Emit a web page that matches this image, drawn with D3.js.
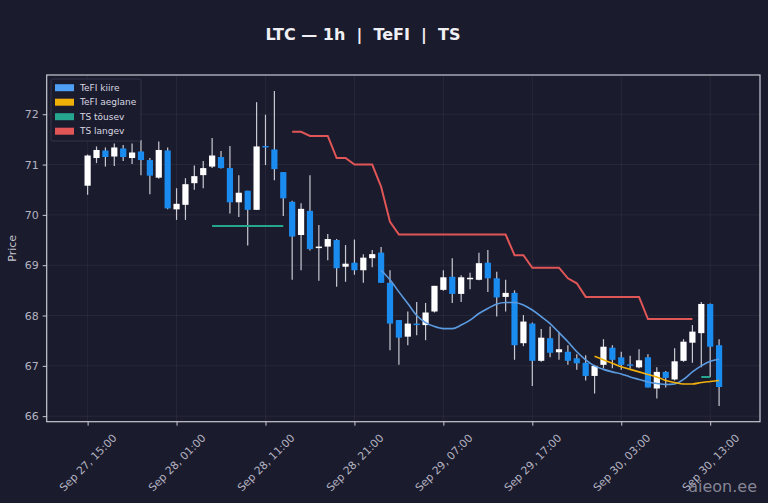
<!DOCTYPE html>
<html>
<head>
<meta charset="utf-8">
<script src="https://cdn.jsdelivr.net/npm/d3@7"></script>
<style>
  html, body { margin: 0; padding: 0; background: #1b1b2e; }
  svg { display: block; font-family: "DejaVu Sans", sans-serif; }
</style>
</head>
<body>
<svg id="chart"></svg>
<script>
// hourly candles, first one Sep 27 15:00
let startTime = Date.UTC(2024, 8, 27, 15);

let opens = [70.58, 71.13, 71.28, 71.16, 71.32, 71.13, 71.26, 71.09, 70.74, 71.28,
  70.11, 70.20, 70.63, 70.79, 70.96, 71.15, 70.93, 70.25, 70.48, 70.10,
  71.37, 71.30, 70.85, 70.26, 69.60, 70.08, 69.34, 69.37, 69.50, 68.97,
  69.05, 68.90, 69.14, 69.25, 68.65, 67.91, 67.58, 67.84, 67.81, 68.08,
  68.51, 68.77, 68.43, 68.73, 68.71, 69.05, 68.74, 68.37, 68.45, 67.45,
  67.84, 67.10, 67.55, 67.27, 67.28, 67.15, 67.06, 66.80, 67.02, 67.36,
  67.17, 67.03, 66.97, 67.17, 66.55, 66.88, 66.73, 67.10, 67.46, 67.65,
  68.23, 67.41];
let highs = [71.20, 71.36, 71.34, 71.42, 71.39, 71.42, 71.49, 71.13, 71.46, 71.34,
  70.53, 70.73, 70.98, 71.07, 71.53, 71.27, 71.37, 70.79, 70.48, 72.24,
  71.99, 72.46, 70.85, 70.28, 70.23, 70.79, 69.80, 69.62, 69.52, 69.40,
  69.51, 69.22, 69.30, 69.36, 68.90, 67.91, 68.08, 68.27, 68.25, 68.59,
  68.90, 69.14, 68.80, 68.85, 69.25, 69.30, 68.87, 68.71, 68.50, 68.01,
  67.86, 67.73, 67.78, 67.68, 67.41, 67.23, 67.21, 67.02, 67.53, 67.41,
  67.28, 67.20, 67.33, 67.23, 66.97, 66.90, 67.35, 67.53, 67.81, 68.27,
  68.24, 67.53];
let lows = [70.40, 71.03, 70.96, 70.97, 71.07, 71.01, 70.79, 70.41, 70.72, 70.11,
  69.90, 69.90, 70.50, 70.53, 70.93, 70.92, 70.03, 69.96, 69.39, 70.10,
  70.99, 70.69, 69.98, 68.71, 68.90, 69.29, 68.69, 69.10, 68.57, 68.67,
  68.81, 68.65, 68.96, 68.65, 67.31, 67.02, 67.41, 67.61, 67.51, 68.06,
  68.49, 68.25, 68.27, 68.52, 68.70, 68.47, 67.98, 68.08, 67.12, 67.39,
  66.60, 67.08, 67.17, 67.12, 67.02, 66.92, 66.71, 66.45, 66.95, 66.95,
  66.92, 66.94, 66.95, 66.57, 66.35, 66.57, 66.71, 67.08, 67.06, 66.97,
  66.78, 66.20];
let closes = [71.18, 71.29, 71.15, 71.34, 71.15, 71.24, 71.09, 70.78, 71.29, 70.13,
  70.22, 70.61, 70.77, 70.93, 71.18, 70.93, 70.25, 70.44, 70.10, 71.36,
  71.35, 70.91, 70.33, 69.57, 70.12, 69.32, 69.37, 69.52, 68.94, 69.03,
  68.90, 69.15, 69.22, 68.65, 67.84, 67.56, 67.84, 67.82, 68.06, 68.59,
  68.76, 68.43, 68.76, 68.75, 69.04, 68.74, 68.36, 68.45, 67.41, 67.88,
  67.10, 67.56, 67.26, 67.33, 67.10, 67.05, 66.80, 67.00, 67.38, 67.12,
  67.02, 67.01, 67.11, 66.57, 66.88, 66.76, 67.09, 67.48, 67.68, 68.23,
  67.38, 66.58];

let n = null;
let tefiFast = [n, n, n, n, n, n, n, n, n, n, n, n, n, n, n, n, n, n, n, n,
  n, n, n, n, n, n, n, n, n, n, n, n, n, 68.90, 68.71, 68.47, 68.24, 68.00, 67.86, 67.78,
  67.74, 67.74, 67.81, 67.91, 68.04, 68.14, 68.23, 68.26, 68.26, 68.21,
  68.11, 67.98, 67.84, 67.66, 67.48, 67.28, 67.12, 67.00, 66.93, 66.88,
  66.84, 66.78, 66.73, 66.68, 66.65, 66.63, 66.64, 66.73, 66.88, 67.00,
  67.09, 67.13];
let tefiSlow = [n, n, n, n, n, n, n, n, n, n, n, n, n, n, n, n, n, n, n, n,
  n, n, n, n, n, n, n, n, n, n, n, n, n, n, n, n, n, n, n, n,
  n, n, n, n, n, n, n, n, n, n, n, n, n, n, n, n, n, 67.19, 67.12, 67.05,
  66.98, 66.93, 66.88, 66.83, 66.78, 66.71, 66.67, 66.64, 66.64, 66.67,
  66.69, 66.71];
let tsUp = [n, n, n, n, n, n, n, n, n, n, n, n, n, n, 69.78, 69.78, 69.78, 69.78, 69.78, 69.78,
  69.78, 69.78, 69.78, n, n, n, n, n, n, n, n, n, n, n, n, n, n, n, n, n,
  n, n, n, n, n, n, n, n, n, n, n, n, n, n, n, n, n, n, n, n,
  n, n, n, n, n, n, n, n, n, 66.78, 66.78, n];
let tsDown = [n, n, n, n, n, n, n, n, n, n, n, n, n, n, n, n, n, n, n, n,
  n, n, n, 71.65, 71.65, 71.57, 71.57, 71.57, 71.13, 71.13,
  71.00, 71.00, 71.00, 70.56, 69.86, 69.61, 69.61, 69.61, 69.61, 69.61,
  69.61, 69.61, 69.61, 69.61, 69.61, 69.61, 69.61, 69.61, 69.20, 69.20,
  68.95, 68.95, 68.95, 68.95, 68.74, 68.64, 68.37, 68.37, 68.37, 68.37,
  68.37, 68.37, 68.37, 67.93, 67.93, 67.93, 67.93, 67.93, 67.93, n, n, n];

let yTicks = [66, 67, 68, 69, 70, 71, 72];
let xTickHours = [0, 10, 20, 30, 40, 50, 60, 70]; // hours after first candle
let legendNames = ['TeFI kiire', 'TeFI aeglane', 'TS tõusev', 'TS langev'];
let legendColors = ['#4f9ff5', '#f0b00a', '#26a68f', '#e05656'];

let w = 768;
let h = 503;
let m = {top: 75, right: 8, bottom: 81.3, left: 46.7};
let hour = 3600 * 1000;

let candles = opens.map((o, i) => ({
  t: new Date(startTime + i * hour),
  o: o, h: highs[i], l: lows[i], c: closes[i]
}));

let svg = d3.select('#chart').attr('width', w).attr('height', h);

svg.append('rect').attr('width', w).attr('height', h).attr('fill', '#1b1b2e');

let xSc = d3.scaleUtc()
  .domain([new Date(startTime - 4.6 * hour), new Date(startTime + 75.6 * hour)])
  .range([m.left, w - m.right]);
let ySc = d3.scaleLinear()
  .domain([65.89, 72.78])
  .range([h - m.bottom, m.top]);

let xTicks = xTickHours.map(d => new Date(startTime + d * hour));
let fmt = d3.utcFormat('%b %d, %H:%M');

// grid
let grid = svg.append('g').attr('stroke', '#ffffff').attr('stroke-opacity', 0.07).attr('stroke-width', 0.8);
grid.selectAll('.gy').data(yTicks).enter().append('line')
  .attr('x1', m.left).attr('x2', w - m.right)
  .attr('y1', d => ySc(d)).attr('y2', d => ySc(d));
grid.selectAll('.gx').data(xTicks).enter().append('line')
  .attr('y1', m.top).attr('y2', h - m.bottom)
  .attr('x1', d => xSc(d)).attr('x2', d => xSc(d));

// candles
let bw = 6.2;
let cg = svg.append('g');
cg.selectAll('.wick').data(candles).enter().append('line')
  .attr('x1', d => xSc(d.t)).attr('x2', d => xSc(d.t))
  .attr('y1', d => ySc(d.h)).attr('y2', d => ySc(d.l))
  .attr('stroke', '#c9c9d2').attr('stroke-width', 1.2);
cg.selectAll('.body').data(candles).enter().append('rect')
  .attr('x', d => xSc(d.t) - bw / 2)
  .attr('width', bw)
  .attr('y', d => ySc(Math.max(d.o, d.c)))
  .attr('height', d => Math.max(1.5, Math.abs(ySc(d.o) - ySc(d.c))))
  .attr('fill', d => d.c >= d.o ? '#ffffff' : '#1a8cf0');

// overlay lines
let mkLine = (vals, curve) => d3.line()
  .defined(d => d != null)
  .x((d, i) => xSc(new Date(startTime + i * hour)))
  .y(d => ySc(d))
  .curve(curve)(vals);

svg.append('path').attr('d', mkLine(tsUp, d3.curveLinear))
  .attr('fill', 'none').attr('stroke', legendColors[2]).attr('stroke-width', 2);
svg.append('path').attr('d', mkLine(tsDown, d3.curveLinear))
  .attr('fill', 'none').attr('stroke', legendColors[3]).attr('stroke-width', 2);
svg.append('path').attr('d', mkLine(tefiFast, d3.curveMonotoneX))
  .attr('fill', 'none').attr('stroke', '#5b9be0').attr('stroke-width', 1.6);
svg.append('path').attr('d', mkLine(tefiSlow, d3.curveMonotoneX))
  .attr('fill', 'none').attr('stroke', legendColors[1]).attr('stroke-width', 1.6);

// axes
let yAxis = d3.axisLeft(ySc).tickValues(yTicks).tickSize(4).tickPadding(4).tickFormat(d3.format('d'));
let yG = svg.append('g').attr('transform', 'translate(' + m.left + ',0)').call(yAxis);
let xAxis = d3.axisBottom(xSc).tickValues(xTicks).tickSize(4).tickFormat(fmt);
let xG = svg.append('g').attr('transform', 'translate(0,' + (h - m.bottom) + ')').call(xAxis);

[yG, xG].forEach(g => {
  g.select('.domain').remove();
  g.selectAll('.tick line').attr('stroke', '#c9c9d2');
  g.selectAll('text').attr('fill', '#b4b4c0').style('font-family', 'DejaVu Sans, sans-serif');
});
yG.selectAll('text').style('font-size', '11px');
xG.selectAll('text')
  .style('font-size', '10.8px')
  .attr('text-anchor', 'middle')
  .attr('dy', '0.35em')
  .attr('y', 0)
  .attr('transform', 'translate(0,41) rotate(-45)');

// frame
svg.append('rect')
  .attr('x', m.left).attr('y', m.top)
  .attr('width', w - m.right - m.left).attr('height', h - m.bottom - m.top)
  .attr('fill', 'none').attr('stroke', '#c9c9d2').attr('stroke-width', 1.2);

// legend
let lg = svg.append('g').attr('transform', 'translate(51,79)');
lg.append('rect').attr('width', 90).attr('height', 62).attr('rx', 2)
  .attr('fill', '#1b1b2e').attr('fill-opacity', 0.85)
  .attr('stroke', '#3a3a52').attr('stroke-width', 0.8);
let items = lg.selectAll('.item').data(legendNames).enter().append('g')
  .attr('transform', (d, i) => 'translate(4,' + (8.7 + i * 14.5) + ')');
items.append('rect').attr('y', -3.5).attr('width', 19).attr('height', 7)
  .attr('fill', (d, i) => legendColors[i]);
items.append('text').attr('x', 25).attr('dy', '0.35em')
  .attr('fill', '#d8d8e0').style('font-size', '9px').text(d => d);

// title, labels
svg.append('text').attr('x', 363).attr('y', 40).attr('text-anchor', 'middle')
  .attr('fill', '#f0f0f4').style('font-size', '16px').style('font-weight', 'bold')
  .style('white-space', 'pre').text('LTC — 1h  |  TeFI  |  TS');
svg.append('text').attr('transform', 'translate(16,' + ((m.top + h - m.bottom) / 2) + ') rotate(-90)')
  .attr('text-anchor', 'middle').attr('fill', '#c4c4cc').style('font-size', '11px').text('Price');
svg.append('text').attr('x', 757).attr('y', 492).attr('text-anchor', 'end')
  .attr('fill', '#9a9aa8').attr('fill-opacity', 0.85).style('font-size', '16px').text('aieon.ee');
</script>
</body>
</html>
